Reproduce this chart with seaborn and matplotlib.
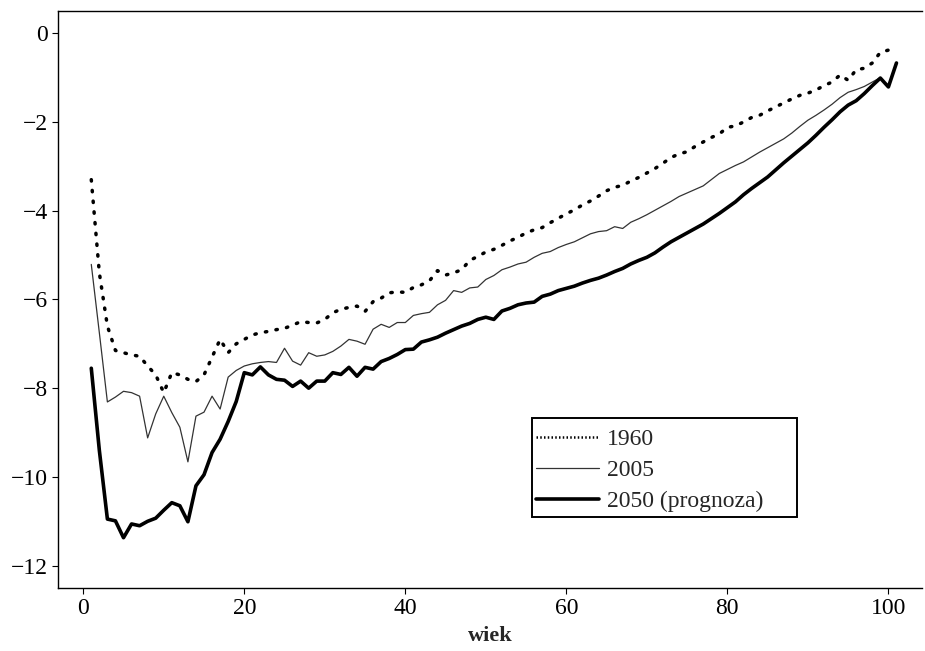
import pandas as pd
import numpy as np
import matplotlib
matplotlib.use("Agg")
import matplotlib.pyplot as plt
from matplotlib.patches import Rectangle
from matplotlib.lines import Line2D
import seaborn as sns

## dane (log wspolczynnikow zgonow wg wieku)
wiek_1960 = list(range(1, 101))
y_1960 = [-3.3, -5.4, -6.6, -7.15, -7.2, -7.25, -7.28, -7.5, -7.7, -8.1,
          -7.65, -7.7, -7.8, -7.85, -7.7, -7.3, -6.9, -7.2, -7.0, -6.9,
          -6.8, -6.75, -6.72, -6.68, -6.65, -6.58, -6.5, -6.52, -6.53, -6.45,
          -6.3, -6.22, -6.18, -6.15, -6.27, -6.05, -5.97, -5.85, -5.83, -5.84,
          -5.73, -5.67, -5.58, -5.35, -5.45, -5.4, -5.33, -5.12, -5.03, -4.93,
          -4.87, -4.78, -4.68, -4.6, -4.5, -4.43, -4.38, -4.27, -4.17, -4.07,
          -3.98, -3.87, -3.78, -3.67, -3.55, -3.47, -3.43, -3.33, -3.25, -3.15,
          -3.05, -2.93, -2.8, -2.72, -2.67, -2.55, -2.45, -2.35, -2.27, -2.12,
          -2.09, -2.0, -1.9, -1.85, -1.75, -1.66, -1.57, -1.48, -1.4, -1.35,
          -1.28, -1.18, -1.1, -0.94, -1.06, -0.82, -0.79, -0.67, -0.43, -0.38]

wiek_2005 = list(range(1, 100))
y_2005 = [-5.21, -6.75, -8.31, -8.2, -8.07, -8.1, -8.18, -9.12, -8.58, -8.18,
          -8.55, -8.88, -9.66, -8.63, -8.54, -8.18, -8.47, -7.75, -7.6, -7.5,
          -7.45, -7.42, -7.4, -7.42, -7.1, -7.39, -7.48, -7.2, -7.28, -7.25,
          -7.17, -7.05, -6.9, -6.94, -7.01, -6.67, -6.56, -6.63, -6.52, -6.52,
          -6.36, -6.32, -6.29, -6.12, -6.02, -5.8, -5.84, -5.74, -5.72, -5.55,
          -5.46, -5.33, -5.27, -5.2, -5.16, -5.05, -4.96, -4.92, -4.83, -4.76,
          -4.7, -4.61, -4.52, -4.47, -4.45, -4.36, -4.4, -4.26, -4.18, -4.09,
          -3.99, -3.89, -3.79, -3.68, -3.6, -3.52, -3.44, -3.3, -3.16, -3.07,
          -2.98, -2.9, -2.79, -2.68, -2.58, -2.48, -2.38, -2.25, -2.1, -1.96,
          -1.85, -1.73, -1.6, -1.45, -1.33, -1.27, -1.2, -1.1, -1.0]

wiek_2050 = list(range(1, 102))
y_2050 = [-7.55, -9.4, -10.95, -10.99, -11.37, -11.06, -11.1, -11.0, -10.93, -10.75,
          -10.58, -10.65, -11.01, -10.2, -9.95, -9.45, -9.15, -8.75, -8.3, -7.65,
          -7.7, -7.52, -7.7, -7.8, -7.82, -7.96, -7.84, -8.0, -7.84, -7.84,
          -7.65, -7.69, -7.53, -7.73, -7.53, -7.57, -7.4, -7.33, -7.24, -7.13,
          -7.12, -6.96, -6.91, -6.85, -6.76, -6.68, -6.6, -6.54, -6.45, -6.4,
          -6.45, -6.26, -6.2, -6.12, -6.08, -6.06, -5.93, -5.88, -5.8, -5.75,
          -5.7, -5.63, -5.57, -5.52, -5.45, -5.37, -5.3, -5.2, -5.12, -5.05,
          -4.95, -4.82, -4.7, -4.6, -4.5, -4.4, -4.3, -4.18, -4.06, -3.93,
          -3.8, -3.64, -3.5, -3.37, -3.24, -3.08, -2.92, -2.77, -2.62, -2.47,
          -2.3, -2.12, -1.95, -1.77, -1.62, -1.52, -1.36, -1.18, -1.01, -1.21,
          -0.67]

etykiety = ["1960", "2005", "2050 (prognoza)"]

sns.set_style("ticks")
plt.rcParams["font.family"] = ["Liberation Serif", "DejaVu Serif"]
plt.rcParams["font.size"] = 17

fig = plt.figure(figsize=(9.25, 6.51), dpi=100)
ax = fig.add_axes([0.063, 0.097, 0.934, 0.886])

##linie
sns.lineplot(x=wiek_1960, y=y_1960, ax=ax, color="black", linewidth=2.5,
             linestyle=(0, (0.4, 2.7)), dash_capstyle="round", label=etykiety[0])
sns.lineplot(x=wiek_2005, y=y_2005, ax=ax, color="#333333", linewidth=0.9,
             label=etykiety[1])
sns.lineplot(x=wiek_2050, y=y_2050, ax=ax, color="black", linewidth=2.6,
             label=etykiety[2])

ax.set_xlim(-3.1, 104.2)
ax.set_ylim(-12.5, 0.5)
ax.set_xticks([0, 20, 40, 60, 80, 100])
ax.set_xticklabels(["0", "20", "40", "60", "80", "100"])
ax.set_yticks([0, -2, -4, -6, -8, -10, -12])
ax.set_yticklabels(["0", "\u22122", "\u22124", "\u22126", "\u22128", "\u221210", "\u221212"])
ax.tick_params(direction="out", length=4, width=0.8, labelsize=17, colors="black")
ax.set_xlabel("wiek", fontsize=16, fontweight="bold", labelpad=5)
ax.set_ylabel("")

for s in ["left", "bottom", "top"]:
    ax.spines[s].set_visible(True)
    ax.spines[s].set_color("black")
    ax.spines[s].set_linewidth(1.0)
ax.spines["right"].set_visible(False)

##legenda: w legendzie linia 1960 ma drobniejsze kropki
handles, labels = ax.get_legend_handles_labels()
handles[0] = Line2D([], [], color="black", linewidth=1.8,
                    linestyle=(0, (0.6, 0.9)), dash_capstyle="butt")
leg = ax.legend(handles, labels, loc="lower left", bbox_to_anchor=(0.549, 0.125),
                frameon=False, fontsize=17, handlelength=2.65, handletextpad=0.35,
                borderpad=0.15, labelspacing=0.4, borderaxespad=0)
ax.add_patch(Rectangle((0.5486, 0.123), 0.3067, 0.1716, transform=ax.transAxes,
                       fill=False, edgecolor="black", linewidth=1.4, zorder=5))

fig.savefig("out.png", dpi=100)
